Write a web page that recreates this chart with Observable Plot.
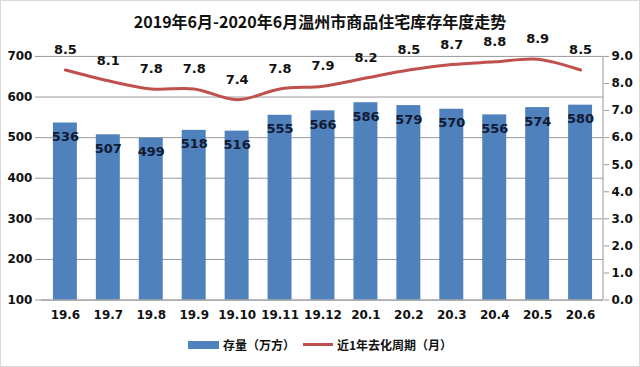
<!DOCTYPE html>
<html><head><meta charset="utf-8">
<script src="https://cdn.jsdelivr.net/npm/d3@7"></script>
<script src="https://cdn.jsdelivr.net/npm/@observablehq/plot@0.6"></script>
<style>
body{margin:0;background:#fff;}
#wrap{width:640px;height:367px;box-sizing:border-box;border:1px solid #d9d9d9;position:relative;overflow:hidden;background:#fff;}
#title{position:absolute;top:0;left:0;width:638px;height:35px;text-align:center;font-weight:bold;font-size:16px;font-family:"Noto Sans CJK SC","DejaVu Sans",sans-serif;line-height:40px;color:#111;z-index:2;}
#chart{position:absolute;top:14px;left:-1px;z-index:1;}
#legend{position:absolute;top:335px;left:0;width:638px;display:flex;justify-content:center;align-items:center;font-weight:bold;font-size:12px;font-family:"Noto Sans CJK SC",sans-serif;color:#111;}
.sw{display:inline-block;width:31px;height:8px;background:#4F81BD;margin-right:4px;}
.ln{display:inline-block;width:30px;height:3px;background:#C0504D;margin:0 4px 0 8px;}
</style>
</head><body>
<div id="wrap">
  <div id="title">2019年6月-2020年6月温州市商品住宅库存年度走势</div>
  <div id="chart"></div>
  <div id="legend"><span class="sw"></span><span>存量（万方）</span><span class="ln"></span><span>近1年去化周期（月）</span></div>
</div>
<script>
const months = ["19.6","19.7","19.8","19.9","19.10","19.11","19.12","20.1","20.2","20.3","20.4","20.5","20.6"];
const stock = [536,507,499,518,516,555,566,586,579,570,556,574,580];
const cycle = [8.5,8.1,7.8,7.8,7.4,7.8,7.9,8.2,8.5,8.7,8.8,8.9,8.5];
const leftTicks = [100,200,300,400,500,600,700];
const rightTicks = [0,1,2,3,4,5,6,7,8,9];

const toLeft = v => 100 + v / 9 * 600;
const data = months.map((m, i) => ({month: m, stock: stock[i], cycle: cycle[i]}));
const font = "DejaVu Sans, Noto Sans CJK SC, sans-serif";

const chart = Plot.plot({
  width: 640,
  height: 320,
  marginTop: 41,
  marginBottom: 35,
  marginLeft: 41,
  marginRight: 36,
  style: {fontFamily: font, fontSize: "12px", fontWeight: "bold", color: "#111", background: "transparent"},
  x: {domain: months, type: "band", paddingInner: 0.45, paddingOuter: 0.225},
  y: {domain: [100, 700]},
  marks: [
    Plot.gridY(leftTicks, {stroke: "#9a9a9a", strokeOpacity: 1, strokeWidth: 1}),
    Plot.barY(data, {x: "month", y1: 100, y2: "stock", fill: "#4F81BD"}),
    Plot.ruleY([100], {stroke: "#9a9a9a"}),
    Plot.axisY(leftTicks, {anchor: "left", tickSize: 6, tickPadding: 3, stroke: "#9a9a9a", fill: "#111", fontWeight: "bold", label: null}),
    Plot.axisY(rightTicks.map(toLeft), {anchor: "right", tickSize: 5, tickPadding: 3, stroke: "#9a9a9a", fill: "#111", fontWeight: "bold", label: null, tickFormat: d => ((d - 100) / 600 * 9).toFixed(1)}),
    Plot.axisX({tickSize: 0, tickPadding: 10, fill: "#111", fontWeight: "bold", label: null}),
    Plot.line(data, {x: "month", y: d => toLeft(d.cycle), curve: "catmull-rom", stroke: "#C0504D", strokeWidth: 3}),
    Plot.text(data, {x: "month", y: "stock", text: d => String(d.stock), dy: 14, fill: "#111a33", fontWeight: "bold", fontSize: 13}),
    Plot.text(data, {x: "month", y: d => toLeft(d.cycle), text: d => d.cycle.toFixed(1), dy: -20, fill: "#111", fontWeight: "bold", fontSize: 13})
  ]
});
// right axis vertical line
const svg = d3.select(chart);
svg.append("line").attr("x1", 604).attr("x2", 604).attr("y1", 41).attr("y2", 285).attr("stroke", "#9a9a9a");
document.getElementById("chart").appendChild(chart);
</script>
</body></html>
